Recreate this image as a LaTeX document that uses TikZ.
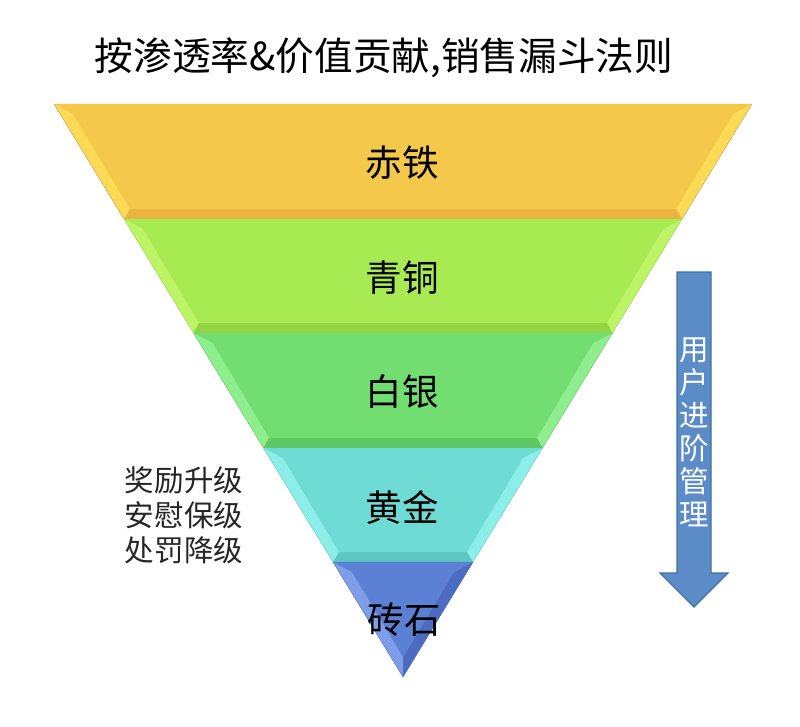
\documentclass[tikz,border=0pt]{standalone}
\usepackage{fontspec}
\setmainfont{Noto Sans CJK SC}
\usepackage{tikz}
\usepackage{xcolor}

\definecolor{yelMain}{HTML}{F4C84B}
\definecolor{yelLight}{HTML}{FDDA55}
\definecolor{yelDark}{HTML}{EAB440}
\definecolor{lgrMain}{HTML}{A8EA52}
\definecolor{lgrLight}{HTML}{BDF466}
\definecolor{lgrDark}{HTML}{94D444}
\definecolor{grnMain}{HTML}{72DE72}
\definecolor{grnLight}{HTML}{8EEE8E}
\definecolor{grnDark}{HTML}{60C862}
\definecolor{cyaMain}{HTML}{6EDCD4}
\definecolor{cyaLight}{HTML}{8CEEE8}
\definecolor{cyaDark}{HTML}{5CC8C0}
\definecolor{bluMain}{HTML}{5C80D4}
\definecolor{bluLight}{HTML}{7E9EEA}
\definecolor{bluDark}{HTML}{4C6CC2}
\definecolor{arrFill}{HTML}{5B8CC8}
\definecolor{arrEdge}{HTML}{41719C}

\begin{document}
\begin{tikzpicture}[x=0.025cm,y=-0.025cm,
    bandtext/.style={font=\fontsize{26}{30}\selectfont},
    sidetext/.style={font=\fontsize{21}{25}\selectfont, align=center, text=black!85},
    arrowtext/.style={font=\fontsize{21}{23.5}\selectfont, align=center, text=white}]
            \useasboundingbox (0,0) rectangle (800,726);

            % title
            \node[font=\fontsize{27.5}{32}\selectfont] (title) at (384,58){按渗透率\&价值贡献,销售漏斗法则};

            % band 1
            \fill[yelLight,draw=yelDark!85!black,line width=0.3pt] (54,104) -- (752,104) -- (682,219) -- (124,219) -- cycle;
            \fill[yelDark] (124,219) -- (682,219) -- (676,209) -- (130,209) -- cycle;
            \fill[yelMain] (54,104) -- (752,104) -- (733,114) -- (73,114) -- cycle;
            \fill[yelMain] (73,114) -- (733,114) -- (676,209) -- (130,209) -- cycle;

            % band 2
            \fill[lgrLight,draw=lgrDark,line width=0.3pt] (124,219) -- (682,219) -- (612.5,333) -- (193.5,333) -- cycle;
            \fill[lgrDark] (193.5,333) -- (612.5,333) -- (607,323) -- (199,323) -- cycle;
            \fill[lgrMain] (124,219) -- (682,219) -- (663,229) -- (143,229) -- cycle;
            \fill[lgrMain] (143,229) -- (663,229) -- (607,323) -- (199,323) -- cycle;

            % band 3
            \fill[grnLight,draw=grnDark,line width=0.3pt] (193.5,333) -- (612.5,333) -- (542.5,448) -- (263.5,448) -- cycle;
            \fill[grnDark] (263.5,448) -- (542.5,448) -- (537,438) -- (269,438) -- cycle;
            \fill[grnMain] (193.5,333) -- (612.5,333) -- (593,343) -- (213,343) -- cycle;
            \fill[grnMain] (213,343) -- (593,343) -- (537,438) -- (269,438) -- cycle;

            % band 4
            \fill[cyaLight,draw=cyaDark,line width=0.3pt] (263.5,448) -- (542.5,448) -- (473,562) -- (333,562) -- cycle;
            \fill[cyaDark] (333,562) -- (473,562) -- (467,552) -- (339,552) -- cycle;
            \fill[cyaMain] (263.5,448) -- (542.5,448) -- (523,458) -- (283,458) -- cycle;
            \fill[cyaMain] (283,458) -- (523,458) -- (467,552) -- (339,552) -- cycle;

            % band 5
            \fill[bluLight,draw=bluDark,line width=0.3pt] (333,562) -- (473,562) -- (403,677) -- cycle;
            \fill[bluDark] (403,677) -- (473,562) -- (454,572) -- (403,657) -- cycle;
            \fill[bluMain] (333,562) -- (473,562) -- (454,572) -- (352,572) -- cycle;
            \fill[bluMain] (352,572) -- (454,572) -- (403,657) -- cycle;

            \node[bandtext] (chitie) at (402,163){赤铁};
            \node[bandtext] (qingtong) at (402,278){青铜};
            \node[bandtext] (baiyin) at (402,392){白银};
            \node[bandtext] (huangjin) at (402,507){黄金};
            \node[bandtext] (zhuanshi) at (404,620){砖石};

            % left notes
            \node[sidetext] (rules) at (184,515){奖励升级\\安慰保级\\处罚降级};

            % arrow
            \filldraw[fill=arrFill,draw=arrEdge,line width=0.8pt] (677,272) -- (711,272) -- (711,573) -- (728,573) -- (694,607) -- (660,573) -- (677,573) -- cycle;
            \node[arrowtext] (manage) at (694,432){用\\户\\进\\阶\\管\\理};
        \end{tikzpicture}
\end{document}
